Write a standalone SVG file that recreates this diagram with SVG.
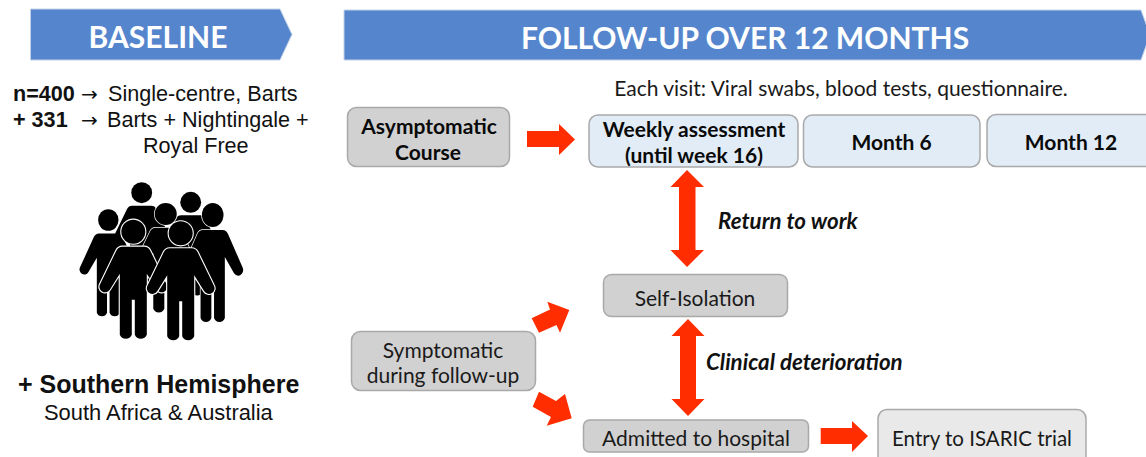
<svg xmlns="http://www.w3.org/2000/svg" xmlns:xlink="http://www.w3.org/1999/xlink" width="1146" height="457" viewBox="0 0 1146 457">
<style>
.banner{fill:#5586cd;stroke:#c3d2e8;stroke-width:1}
.bt{font:700 30px Lato,"Open Sans",sans-serif;fill:#fff;text-anchor:middle}
.grey{fill:#d1d1d1;stroke:#a9a9a9;stroke-width:1.5}
.blue{fill:#e2ecf7;stroke:#a9a9a9;stroke-width:1.5}
.light{fill:#e9e9e9;stroke:#a9a9a9;stroke-width:1.5}
.t{font:400 21px Lato,"Open Sans",sans-serif;fill:#1a1a1a;text-anchor:middle}
.b{font-weight:700;fill:#0a0a0a}
.i{font:italic 700 22.300px Lato,"Open Sans",sans-serif;fill:#111}
.l{font:400 21.600px "Liberation Sans",Arial,sans-serif;fill:#111}
.lb{font-weight:700}
.ar{font:400 20px "DejaVu Sans",sans-serif;fill:#111}
.arrow{fill:#ff2d00}
.front{stroke:#fff;stroke-width:2.200;paint-order:stroke}
.mid{stroke:#fff;stroke-width:1.500;paint-order:stroke}
</style>
<defs>
<g id="person">
<circle cx="0" cy="0" r="12"/>
<path d="M-11,15H11Q15,15 17,19L33,52A5.500,5.500 0 0 1 23.500,58L13.500,42V103A6.500,6.500 0 0 1 1.500,103V68H-1.500V103A6.500,6.500 0 0 1 -13.500,103V42L-23.500,58A5.500,5.500 0 0 1 -33,52L-17,19Q-15,15 -11,15Z"/>
</g>
</defs>
<g id="baseline-banner">
<path class="banner" d="M30.500,9H280L292,34.500L280,60H30.500Z"/>
<text class="bt" x="158" y="48">BASELINE</text>
</g>
<g id="followup-banner">
<path class="banner" d="M344,10H1141L1150,35L1141,60H344Z"/>
<text class="bt" x="745" y="49">FOLLOW-UP OVER 12 MONTHS</text>
</g>
<g id="baseline-text">
<text class="l lb" x="13" y="101">n=400</text>
<text class="ar" x="81" y="101">→</text>
<text class="l" x="108" y="101">Single-centre, Barts</text>
<text class="l lb" x="13" y="127">+ 331</text>
<text class="ar" x="81" y="127">→</text>
<text class="l" x="107" y="127">Barts + Nightingale +</text>
<text class="l" x="143" y="153">Royal Free</text>
<text class="l lb" x="18" y="393" style="font-size:25px">+ Southern Hemisphere</text>
<text class="l" x="44" y="420" style="font-size:21.900px">South Africa &amp; Australia</text>
</g>
<g id="people">
<use xlink:href="#person" transform="translate(141.700,192.700) scale(.87)"/>
<use xlink:href="#person" transform="translate(190.700,202.300) scale(.87)"/>
<use class="mid" xlink:href="#person" transform="translate(165.700,214) scale(.92)"/>
<use xlink:href="#person" transform="translate(108.300,220) scale(.85,.9)"/>
<use class="mid" xlink:href="#person" transform="translate(212.700,215) scale(.9,1)"/>
<use class="front" xlink:href="#person" transform="translate(133.300,231.700)"/>
<use class="front" xlink:href="#person" transform="translate(180.700,233.300)"/>
</g>
<text class="t" x="841" y="96">Each visit: Viral swabs, blood tests, questionnaire.</text>
<g id="asymptomatic">
<rect class="grey" x="347.500" y="107.500" width="162" height="59" rx="9"/>
<text class="t b" x="429" y="134">Asymptomatic</text>
<text class="t b" x="428" y="160">Course</text>
</g>
<g id="weekly">
<rect class="blue" x="589" y="115" width="209" height="52" rx="9"/>
<text class="t b" x="694" y="137">Weekly assessment</text>
<text class="t b" x="694" y="163">(until week 16)</text>
</g>
<g id="month6">
<rect class="blue" x="803.500" y="115" width="176.500" height="52" rx="9"/>
<text class="t b" x="891.500" y="150">Month 6</text>
</g>
<g id="month12">
<rect class="blue" x="987" y="114.500" width="175" height="52" rx="9"/>
<text class="t b" x="1071" y="150">Month 12</text>
</g>
<g id="self-isolation">
<rect class="grey" x="603.500" y="274.500" width="184" height="42" rx="8"/>
<text class="t" x="695" y="306">Self-Isolation</text>
</g>
<g id="symptomatic">
<rect class="grey" x="351.500" y="331.500" width="184" height="59" rx="9"/>
<text class="t" x="443" y="358">Symptomatic</text>
<text class="t" x="443" y="383">during follow-up</text>
</g>
<g id="admitted">
<rect class="grey" x="583.500" y="420" width="225" height="32" rx="6"/>
<text class="t" x="696" y="446">Admitted to hospital</text>
</g>
<g id="entry">
<rect class="light" x="878" y="409.500" width="208" height="60" rx="9"/>
<text class="t" x="982" y="446" style="font-size:20.500px">Entry to ISARIC trial</text>
</g>
<g id="connectors">
<polygon class="arrow" points="527,131 559,131 559,124 575,139.500 559,155 559,147 527,147"/>
<polygon class="arrow" points="687,170 704,187 695.500,187 695.500,250 704,250 687,267 670.500,250 679,250 679,187 670.500,187"/>
<polygon class="arrow" points="688,319 704.500,336 696,336 696,399 704.500,399 688,416 671.500,399 680,399 680,336 671.500,336"/>
<polygon class="arrow" points="820.700,428 852,428 852,421 868,436 852,452 852,444 820.700,444"/>
<polygon class="arrow" points="531.700,318.300 550,309.500 547.300,301.700 569.300,310 560,332.700 556.500,325 539,332.700"/>
<polygon class="arrow" points="539,391.700 556,401 565,394 571.700,418.300 546.700,425.700 551,417 532.700,406.700"/>
</g>
<text class="i" x="718" y="229">Return to work</text>
<text class="i" x="706" y="370">Clinical deterioration</text>
</svg>
